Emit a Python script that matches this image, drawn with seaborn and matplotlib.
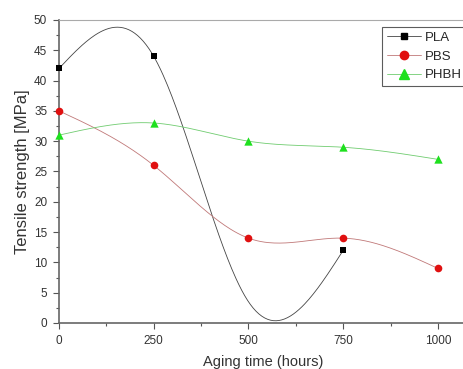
import numpy as np
import pandas as pd
import seaborn as sns
import matplotlib.pyplot as plt
from matplotlib.lines import Line2D
from matplotlib.ticker import MultipleLocator

# data
hours = [0, 250, 500, 750, 1000]
pbs = [35, 26, 14, 14, 9]
phbh = [31, 33, 30, 29, 27]
pla_hours = [0, 250, 750]
pla = [42, 44, 12]
# the PLA curve dips to ~0 near 500 h but no marker is drawn there
pla_curve_hours = [0, 250, 500, 750]
pla_curve = [42, 44, 3.5, 12]


def natural_spline(x, y, n=200):
    """Natural cubic spline through (x, y), sampled on n points."""
    x = np.asarray(x, float)
    y = np.asarray(y, float)
    k = len(x)
    h = np.diff(x)
    A = np.zeros((k, k))
    b = np.zeros(k)
    A[0, 0] = A[-1, -1] = 1
    for i in range(1, k - 1):
        A[i, i - 1] = h[i - 1]
        A[i, i] = 2 * (h[i - 1] + h[i])
        A[i, i + 1] = h[i]
        b[i] = 6 * ((y[i + 1] - y[i]) / h[i] - (y[i] - y[i - 1]) / h[i - 1])
    M = np.linalg.solve(A, b)
    xs = np.linspace(x[0], x[-1], n)
    idx = np.clip(np.searchsorted(x, xs) - 1, 0, k - 2)
    x0, x1 = x[idx], x[idx + 1]
    hh = x1 - x0
    a = (x1 - xs) / hh
    c = (xs - x0) / hh
    ys = a * y[idx] + c * y[idx + 1] + ((a**3 - a) * M[idx] + (c**3 - c) * M[idx + 1]) * hh**2 / 6
    return xs, ys


sns.set_style("ticks")
plt.rcParams["font.family"] = ["Liberation Sans", "DejaVu Sans"]

series = [
    ("PLA", pla_curve_hours, pla_curve, pla_hours, pla, "#444444", "black", "s", 4),
    ("PBS", hours, pbs, hours, pbs, "#c07878", "#e01010", "o", 5.5),
    ("PHBH", hours, phbh, hours, phbh, "#70cc70", "#1ee01e", "^", 6),
]

fig = plt.figure(figsize=(4.63, 3.69), dpi=100)
ax = fig.add_axes([0.1274, 0.1247, 0.88, 0.8211])

handles = []
for name, cx, cy, mx, my, lc, mc, mk, ms in series:
    xs, ys = natural_spline(cx, cy)
    curve = pd.DataFrame({"hours": xs, "strength": ys})
    pts = pd.DataFrame({"hours": mx, "strength": my})
    sns.lineplot(data=curve, x="hours", y="strength", color=lc, lw=0.6,
                 estimator=None, sort=False, ax=ax, zorder=2)
    sns.scatterplot(data=pts, x="hours", y="strength", color=mc, marker=mk,
                    s=ms**2, edgecolor=mc, linewidth=0, ax=ax, zorder=3, clip_on=False)
    handles.append(Line2D([], [], color=lc, lw=0.6, marker=mk, markersize=ms + 0.5,
                          markerfacecolor=mc, markeredgecolor=mc, label=name))

ax.set_xlim(0, 1075)
ax.set_ylim(0, 50)
ax.xaxis.set_major_locator(MultipleLocator(250))
ax.xaxis.set_minor_locator(MultipleLocator(125))
ax.yaxis.set_major_locator(MultipleLocator(5))
ax.yaxis.set_minor_locator(MultipleLocator(2.5))
ax.tick_params(which="major", direction="out", length=4.5, width=0.8, color="#555555",
               labelsize=8.5, labelcolor="#333333", pad=4)
ax.tick_params(which="minor", direction="out", length=2.5, width=0.8, color="#555555")

for side in ["left", "bottom"]:
    ax.spines[side].set_color("#666666")
    ax.spines[side].set_linewidth(1.2)
ax.spines["top"].set_color("#aaaaaa")
ax.spines["top"].set_linewidth(0.8)
ax.spines["right"].set_visible(False)

ax.set_xlabel("Aging time (hours)", fontsize=10.5, color="#333333", labelpad=6)
ax.set_ylabel("Tensile strength [MPa]", fontsize=12, color="#333333", labelpad=3)

leg = ax.legend(handles=handles, loc="upper right", bbox_to_anchor=(1.0, 0.977),
                fontsize=9.5, frameon=True, fancybox=False, handlelength=2.6,
                borderpad=0.35, labelspacing=0.5, handletextpad=0.3, borderaxespad=0)
leg.get_frame().set_edgecolor("#333333")
leg.get_frame().set_linewidth(0.8)

fig.savefig("out.png", dpi=100)
